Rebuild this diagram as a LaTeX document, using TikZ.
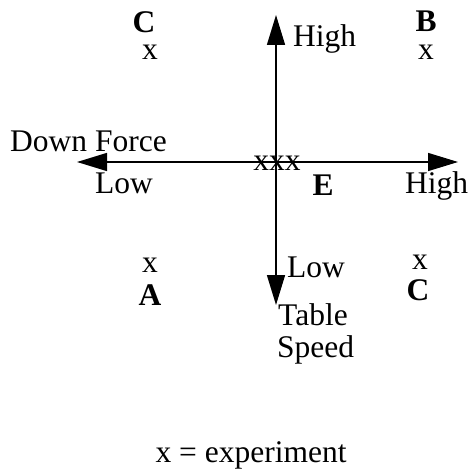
\documentclass[tikz,border=0pt]{standalone}
\usepackage{fontspec}
\setmainfont{Liberation Serif}
\usetikzlibrary{arrows.meta}
\tikzset{
  lbl/.style={inner sep=0pt, anchor=base, font=\fontsize{31.5}{34}\selectfont},
  corner/.style={lbl, font=\fontsize{31.5}{34}\selectfont\bfseries},
  axis/.style={line width=1.5pt, {Triangle[length=30pt,width=18pt]}-{Triangle[length=30pt,width=18pt]}}
}
\begin{document}
\begin{tikzpicture}[x=1pt, y=-1pt]
  \useasboundingbox (0,0) rectangle (471,473);
  % Axes
  \coordinate (speedhigh) at (276,15);
  \coordinate (speedlow) at (276,305);
  \coordinate (forcelow) at (77,162);
  \coordinate (forcehigh) at (458,162);
  \draw[axis] (speedhigh) -- (speedlow);
  \draw[axis] (forcelow) -- (forcehigh);
  % Axis labels
  \node[lbl, anchor=base west] (tophigh) at (293,47) {High};
  \node[lbl, anchor=base west] (force) at (10,152) {Down Force};
  \node[lbl, anchor=base west] (leftlow) at (95,193) {Low};
  \node[lbl, anchor=base west] (righthigh) at (405,193) {High};
  \node[lbl, anchor=base west] (bottomlow) at (287,277) {Low};
  \node[lbl, anchor=base west] (table) at (278,325) {Table};
  \node[lbl, anchor=base west] (speed) at (277,357) {Speed};
  % Experiments
  \node[corner] (cornerC) at (144,33) {C};
  \node[lbl] (expC) at (150,60) {x};
  \node[corner] (cornerB) at (426,32) {B};
  \node[lbl] (expB) at (426,60) {x};
  \node[lbl] (expE) at (277,170) {xxx};
  \node[corner] (centerE) at (323,195) {E};
  \node[lbl] (expA) at (150,272) {x};
  \node[corner] (cornerA) at (150,305) {A};
  \node[lbl] (expC2) at (420,269) {x};
  \node[corner] (cornerC2) at (418,300) {C};
  % Legend
  \node[lbl] (legend) at (251,462) {x = experiment};
\end{tikzpicture}
\end{document}
